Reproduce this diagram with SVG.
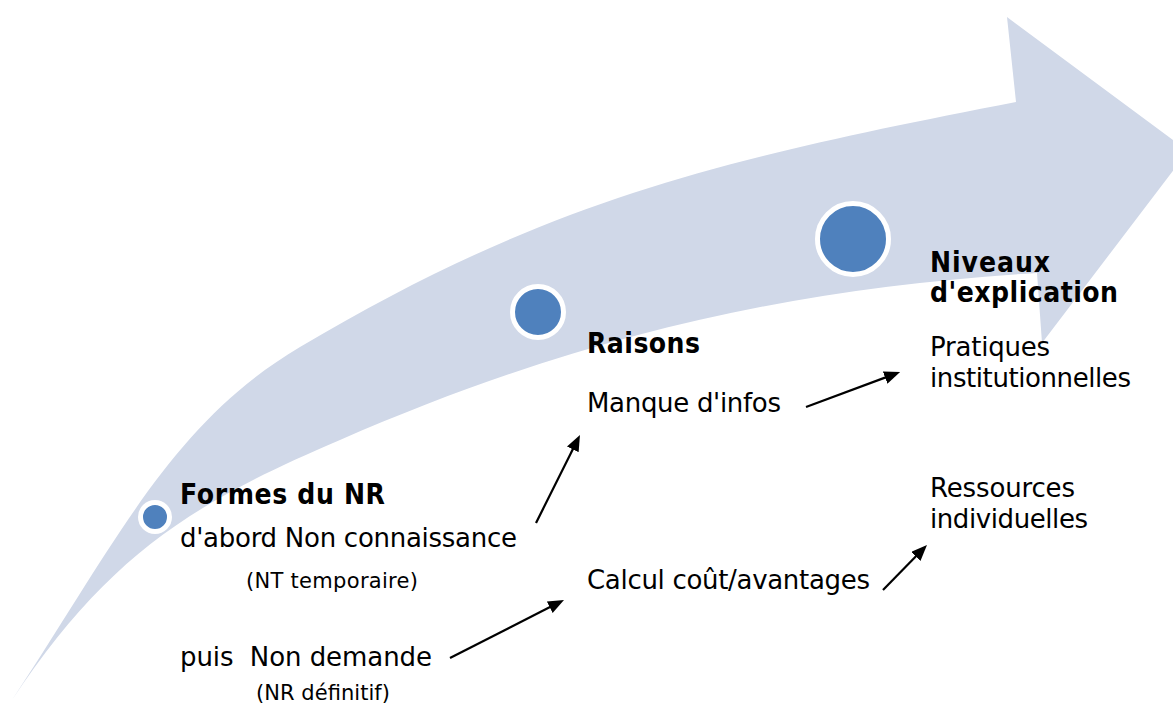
<svg xmlns="http://www.w3.org/2000/svg" width="1173" height="707" viewBox="0 0 1173 707">
<defs>
<style>
.band{fill:#D0D8E8;}
.dot{fill:#4F81BD;stroke:#FFFFFF;stroke-width:5;}
.t{font-family:"DejaVu Sans","Liberation Sans",sans-serif;font-size:26px;fill:#000;}
.b{font-family:"DejaVu Sans Condensed","DejaVu Sans","Liberation Sans",sans-serif;font-stretch:condensed;font-size:28px;font-weight:bold;fill:#000;}
.s{font-family:"DejaVu Sans","Liberation Sans",sans-serif;font-size:21px;fill:#000;}
.conn{stroke:#000;stroke-width:2.2;fill:none;}
</style>
<marker id="ah" viewBox="0 0 16 13" refX="2" refY="6.5" markerWidth="16" markerHeight="13" markerUnits="userSpaceOnUse" orient="auto">
<path d="M0,0 L16,6.5 L0,13 z" fill="#000"/>
</marker>
</defs>
<rect width="1173" height="707" fill="#FFFFFF"/>
<g id="big-arrow">
<path class="band" d="M12,700 C116.5,542 171,423.5 300,347 C549.4,199 722,159 1016,102 L1007,17 L1188,151 L1042,343 L1037,273 C790,288 579,336 340,440 C187,505 106,559 12,700 Z"/>
</g>
<g id="node-formes">
<circle class="dot" cx="155" cy="517" r="14.5"/>
<text class="b" x="180" y="504" textLength="205">Formes du NR</text>
<text class="t" x="180" y="547" textLength="337">d'abord Non connaissance</text>
<text class="s" x="246" y="588" textLength="172">(NT temporaire)</text>
<text class="t" x="180" y="666" textLength="252" xml:space="preserve">puis  Non demande</text>
<text class="s" x="256" y="700" textLength="134">(NR définitif)</text>
</g>
<g id="node-raisons">
<circle class="dot" cx="538" cy="312" r="25.5"/>
<text class="b" x="587" y="353" textLength="113">Raisons</text>
<text class="t" x="587" y="412" textLength="194">Manque d'infos</text>
<text class="t" x="587" y="589" textLength="283">Calcul coût/avantages</text>
</g>
<g id="node-niveaux">
<circle class="dot" cx="853" cy="239" r="35.5"/>
<text class="b" x="930" y="272" textLength="120">Niveaux</text>
<text class="b" x="930" y="302" textLength="188">d'explication</text>
<text class="t" x="930" y="356" textLength="120">Pratiques</text>
<text class="t" x="930" y="387" textLength="201">institutionnelles</text>
<text class="t" x="930" y="497" textLength="145">Ressources</text>
<text class="t" x="930" y="528" textLength="158">individuelles</text>
</g>
<g id="connectors">
<line class="conn" x1="536" y1="523" x2="573.7" y2="447.5" marker-end="url(#ah)"/>
<line class="conn" x1="450" y1="658" x2="551.5" y2="606.3" marker-end="url(#ah)"/>
<line class="conn" x1="806" y1="407" x2="887" y2="376.9" marker-end="url(#ah)"/>
<line class="conn" x1="883" y1="590" x2="917.2" y2="555" marker-end="url(#ah)"/>
</g>
</svg>
